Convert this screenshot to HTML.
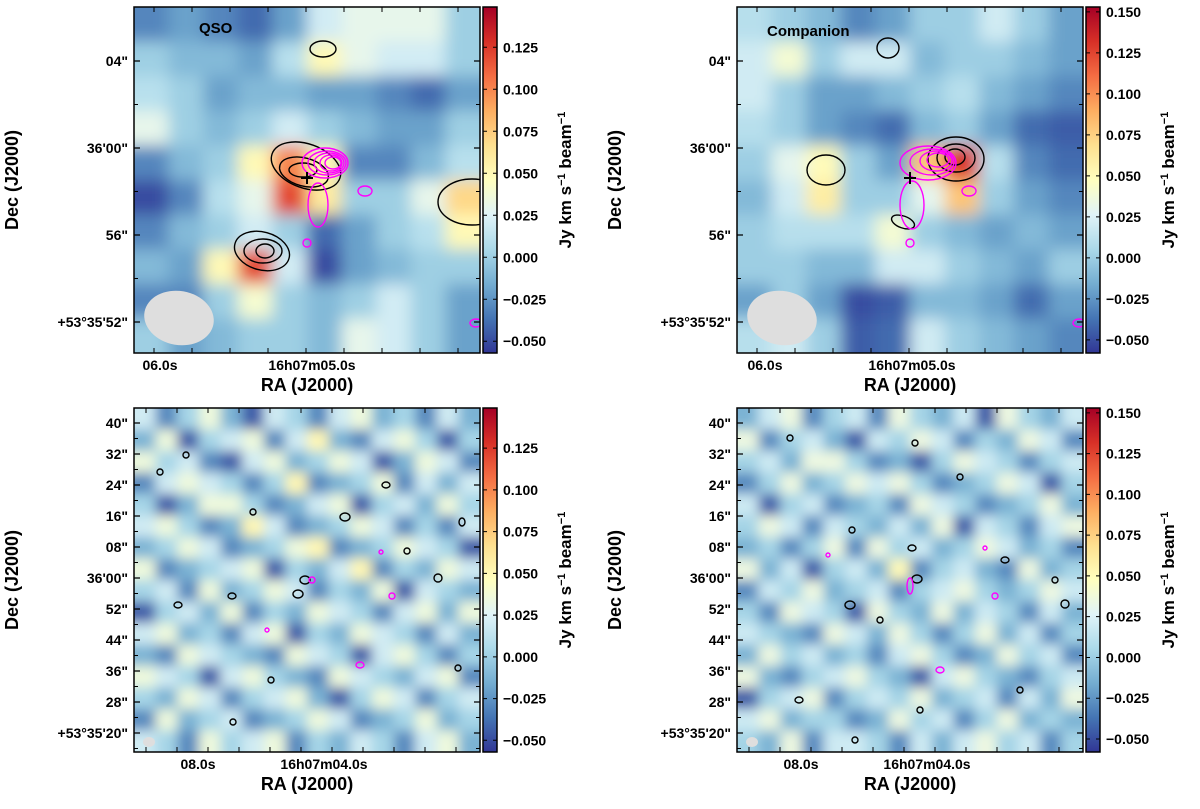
<!DOCTYPE html>
<html><head><meta charset="utf-8"><style>
body{margin:0;background:#fff;width:1200px;height:804px;overflow:hidden}
svg text{font-family:"Liberation Sans",sans-serif;font-weight:bold;fill:#000}
</style></head><body>
<svg id="fig" width="1200" height="804" xmlns="http://www.w3.org/2000/svg">
<defs>
<linearGradient id="cmap" x1="0" y1="1" x2="0" y2="0">
<stop offset="0" stop-color="#313695"/><stop offset="0.1" stop-color="#4575b4"/><stop offset="0.2" stop-color="#74add1"/><stop offset="0.3" stop-color="#abd9e9"/><stop offset="0.4" stop-color="#e0f3f8"/><stop offset="0.5" stop-color="#ffffbf"/><stop offset="0.6" stop-color="#fee090"/><stop offset="0.7" stop-color="#fdae61"/><stop offset="0.8" stop-color="#f46d43"/><stop offset="0.9" stop-color="#d73027"/><stop offset="1" stop-color="#a50026"/>
</linearGradient>
<filter id="blurBig" x="-10%" y="-10%" width="120%" height="120%"><feGaussianBlur stdDeviation="8"/></filter>
<filter id="blurSmall" x="-10%" y="-10%" width="120%" height="120%"><feGaussianBlur stdDeviation="6"/></filter>
</defs>
</svg>
<script>
// ---- data ----
const qsoGrid = [
[-0.03,-0.02,-0.03,-0.04,-0.02,0.02,0.03,0.03,0.03,0.0],
[0.0,-0.01,-0.01,-0.02,0.01,0.05,0.03,0.02,0.02,0.0],
[0.01,0.0,-0.02,-0.01,-0.01,-0.02,-0.02,-0.03,-0.04,-0.02],
[0.03,0.0,-0.01,0.0,0.02,0.0,-0.01,-0.02,-0.02,0.0],
[-0.03,-0.01,0.0,0.05,0.10,0.05,-0.03,-0.03,-0.01,0.01],
[-0.05,-0.03,0.01,0.03,0.12,0.06,0.0,0.0,0.03,0.07],
[-0.03,-0.01,0.0,0.02,0.0,-0.04,-0.02,0.0,0.01,0.05],
[-0.01,-0.02,0.05,0.12,0.02,-0.05,-0.02,-0.01,0.0,0.0],
[-0.03,-0.03,0.0,0.04,0.0,-0.01,0.0,0.02,0.0,-0.02],
[0.0,-0.02,-0.01,0.0,0.0,-0.01,0.03,0.02,0.0,-0.02]];
const compGrid = [
[0.01,0.0,-0.01,-0.03,-0.02,0.0,0.0,0.02,0.0,-0.02],
[0.02,0.04,0.0,0.02,0.02,-0.01,0.0,0.0,-0.01,-0.02],
[0.02,0.0,-0.02,-0.02,-0.01,0.0,0.01,-0.01,-0.02,-0.03],
[0.01,0.0,-0.02,-0.03,-0.04,-0.01,0.0,-0.02,-0.04,-0.045],
[0.0,0.03,0.05,0.0,-0.02,0.08,0.13,0.01,-0.03,-0.04],
[-0.01,0.02,0.06,0.0,0.0,0.03,0.08,0.0,-0.02,-0.03],
[0.0,0.01,0.01,0.01,0.04,0.0,-0.01,-0.02,-0.01,-0.02],
[0.0,0.0,-0.01,-0.01,0.02,0.02,0.0,-0.01,-0.02,0.0],
[-0.02,0.0,-0.02,-0.05,-0.045,-0.01,-0.01,-0.02,-0.04,-0.02],
[0.01,0.02,0.0,-0.045,-0.04,0.02,0.0,-0.01,-0.02,-0.03]];
const wideQsoGrid = [
[1,-2,0,2,-1,-3,1,0,-2,1,2,-1,0,-2,1,-1],
[-1,2,-3,0,1,2,-2,1,3,-1,-2,1,2,0,-3,0],
[2,0,1,-2,-3,1,2,-1,0,2,1,-3,-1,2,1,-2],
[-2,1,2,1,0,-2,0,3,-2,-1,0,2,-2,1,-1,1],
[0,-3,-1,2,2,0,-2,-1,1,2,-3,0,1,-1,2,0],
[1,2,0,-2,-1,3,1,-2,-1,0,2,1,-2,0,-2,1],
[-1,0,2,1,-2,-1,0,2,3,-2,-1,0,2,1,0,-3],
[2,-2,-1,0,1,2,-3,0,-1,1,3,-2,0,-1,2,1],
[0,1,-2,2,-1,0,2,1,-2,0,-1,2,-3,1,0,-1],
[-3,0,1,-1,2,-2,0,-1,2,1,0,-2,1,2,-1,2],
[1,2,-1,0,-2,1,2,-3,0,-1,2,1,0,-2,1,-1],
[-1,-2,2,1,0,-1,-2,2,1,0,-3,1,2,0,-2,0],
[2,1,0,-3,1,2,0,-1,-2,2,1,0,-1,1,2,-2],
[0,-1,2,1,-2,0,1,2,-1,-3,0,2,1,-2,0,1],
[-2,2,-1,0,1,-2,-1,0,2,1,-2,-1,0,2,-1,0],
[1,0,-2,2,0,1,2,-2,0,-1,1,0,-2,1,2,-1]];
const wideCompGrid = [
[-1,1,2,-2,0,1,-2,2,0,-1,1,-3,2,0,-1,1],
[2,-2,0,1,-1,-3,1,0,2,1,-2,0,-1,2,1,-2],
[0,1,-1,2,2,0,-2,-1,-3,0,2,1,0,-2,0,1],
[-2,0,2,-1,0,2,1,2,0,-2,-1,0,2,1,-3,0],
[1,-3,0,1,-2,-1,0,-2,2,1,0,-2,-1,0,2,-1],
[0,2,1,-2,1,0,-1,1,-1,2,-3,1,0,-2,1,2],
[-1,0,-2,0,2,-2,2,0,1,-1,0,2,1,-1,0,-2],
[2,-1,1,-3,0,1,-1,3,-2,0,1,-1,-2,2,-1,0],
[-2,1,0,2,-1,0,1,-2,0,1,2,0,-1,0,2,1],
[0,-2,2,1,0,-3,2,0,-1,2,-1,1,0,-2,1,-1],
[1,0,-1,-2,2,1,-1,2,0,-2,0,2,-1,1,-2,0],
[-1,2,0,1,-1,0,-2,1,2,0,-2,-1,2,0,1,-2],
[2,-1,-2,0,1,2,0,-1,-3,1,2,0,-1,-2,0,1],
[-3,0,1,2,-2,0,1,0,2,-1,0,1,-2,1,-1,2],
[1,2,-1,0,0,-2,-1,2,0,1,-2,0,2,-1,0,-1],
[0,-1,2,-2,1,1,0,-2,1,-1,1,2,0,1,-2,0]];
const cbTicksA = [0.125,0.100,0.075,0.050,0.025,0.000,-0.025,-0.050];
const cbTicksB = [0.150,0.125,0.100,0.075,0.050,0.025,0.000,-0.025,-0.050];
const topDecLabels = ['04"','36\'00"','56"','+53°35\'52"'];
const botDecLabels = ['40"','32"','24"','16"','08"','36\'00"','52"','44"','36"','28"','+53°35\'20"'];

const NS="http://www.w3.org/2000/svg";
const fig=document.getElementById('fig');
function mk(tag,attrs,parent){const e=document.createElementNS(NS,tag);for(const k in attrs)e.setAttribute(k,attrs[k]);(parent||fig).appendChild(e);return e;}
const stops=['#313695','#4575b4','#74add1','#abd9e9','#e0f3f8','#ffffbf','#fee090','#fdae61','#f46d43','#d73027','#a50026'];
function hex(c){return [1,3,5].map(i=>parseInt(c.substr(i,2),16));}
function cmap(t){t=Math.max(0,Math.min(1,t));const f=t*10,i=Math.min(9,Math.floor(f)),r=f-i;const a=hex(stops[i]),b=hex(stops[i+1]);return 'rgb('+a.map((v,k)=>Math.round(v+(b[k]-v)*r)).join(',')+')';}

let pid=0;
function panel(o){
  pid++;
  const g=mk('g',{});
  
  
  const cp=mk('clipPath',{id:'cp'+pid},g);
  mk('rect',{x:o.x,y:o.y,width:o.w,height:o.h},cp);
  const clipG=mk('g',{'clip-path':'url(#cp'+pid+')'},g);
  mk('rect',{x:o.x,y:o.y,width:o.w,height:o.h,fill:cmap((0.0-o.vmin)/(o.vmax-o.vmin))},clipG);
  const hm=mk('g',{filter:o.blur},clipG);
  
  
  const grid=o.grid,R=grid.length,C=grid[0].length,cw=o.w/C,ch=o.h/R;
  for(let r=-1;r<=R;r++)for(let c=-1;c<=C;c++){
    const rr=Math.max(0,Math.min(R-1,r)),cc=Math.max(0,Math.min(C-1,c));
    const v=grid[rr][cc]*o.scale+(o.offset||0);
    const cell=mk('rect',{x:o.x+c*cw,y:o.y+r*ch,width:cw+0.5,height:ch+0.5,fill:cmap((v-o.vmin)/(o.vmax-o.vmin))},hm);
    
    
  }
  (o.contours||[]).forEach(ct=>{
    const e=mk('ellipse',{cx:ct[0],cy:ct[1],rx:ct[2],ry:ct[3],fill:'none',stroke:ct[4],'stroke-width':ct[5]||1.4,transform:'rotate('+(ct[6]||0)+' '+ct[0]+' '+ct[1]+')'},clipG);
    
    
  });
  if(o.beam){const b=mk('ellipse',{cx:o.beam[0],cy:o.beam[1],rx:o.beam[2],ry:o.beam[3],fill:'#dedede',transform:'rotate('+(o.beam[4]||0)+' '+o.beam[0]+' '+o.beam[1]+')'},clipG);
    }
  if(o.cross){const cr=mk('path',{d:`M${o.cross[0]-6} ${o.cross[1]}h12M${o.cross[0]} ${o.cross[1]-6}v12`,stroke:'#000','stroke-width':2},g);
    }
  if(o.title){const t=mk('text',{x:o.title[1],y:o.title[2],'font-size':15},g);t.textContent=o.title[0];
    }
  mk('rect',{x:o.x,y:o.y,width:o.w,height:o.h,fill:'none',stroke:'#000','stroke-width':1.5},g);
  o.yLabels.forEach((lab,i)=>{
    const y=o.yPos[0]+i*o.yPos[1];
    mk('path',{d:`M${o.x} ${y}h6M${o.x+o.w} ${y}h-6`,stroke:'#000','stroke-width':1.2},g);
    const t=mk('text',{x:o.x-6,y:y+5,'text-anchor':'end','font-size':14},g);t.textContent=lab;
    
    const hy=y+o.yPos[1]/2;
    if(hy<o.y+o.h) mk('path',{d:`M${o.x} ${hy}h4M${o.x+o.w} ${hy}h-4`,stroke:'#000','stroke-width':1},g);
  });
  for(let xx=o.x+o.xMinor[0];xx<o.x+o.w;xx+=o.xMinor[1]) mk('path',{d:`M${xx} ${o.y+o.h}v-5M${xx} ${o.y}v5`,stroke:'#000','stroke-width':1},g);
  o.xLabels.forEach(l=>{const t=mk('text',{x:l[1],y:o.y+o.h+17,'text-anchor':'middle','font-size':14},g);t.textContent=l[0];
    });
  let t=mk('text',{x:o.x+o.w/2,y:o.y+o.h+38,'text-anchor':'middle','font-size':18},g);t.textContent='RA (J2000)';
  
  t=mk('text',{x:0,y:0,'text-anchor':'middle','font-size':18,transform:`translate(${o.x-116},${o.y+o.h/2}) rotate(-90)`},g);t.textContent='Dec (J2000)';
  
  const cb=mk('g',{},g);
  const cx=o.x+o.w+3;
  mk('rect',{x:cx,y:o.y,width:14,height:o.h,fill:'url(#cmap)',stroke:'#000','stroke-width':1.5},cb);
  const vy=v=>o.y+o.h-(v-o.vmin)/(o.vmax-o.vmin)*o.h;
  o.cbTicks.forEach(v=>{const y=vy(v);
    mk('path',{d:`M${cx} ${y}h4M${cx+14} ${y}h-4`,stroke:'#000','stroke-width':1},cb);
    const tt=mk('text',{x:cx+20,y:y+5,'font-size':14},cb);tt.textContent=v.toFixed(3).replace('-','\u2212');
    });
  t=mk('text',{x:0,y:0,'text-anchor':'middle','font-size':17,transform:`translate(${cx+88},${o.y+o.h/2}) rotate(-90)`},cb);
  mk('tspan',{},t).textContent='Jy km s';
  mk('tspan',{dy:-6,'font-size':11},t).textContent='\u22121';
  mk('tspan',{dy:6},t).textContent=' beam';
  mk('tspan',{dy:-6,'font-size':11},t).textContent='\u22121';
  
}
const K='#000',M='#ff00ff';
panel({name:'qso-zoom-panel',x:134,y:7,w:346,h:346,grid:qsoGrid,scale:1,vmin:-0.057,vmax:0.149,blur:'url(#blurBig)',cbTicks:cbTicksA,
 title:['QSO',199,33],cross:[307,178],beam:[179,318,35,27,10],
 contours:[[323,49,13,8,K],[306,166,36,22,K,1.4,20],[304,172,25,14,K,1.4,15],[303,170,14,7,K],[262,251,28,19,K,1.4,15],[263,251,19,12,K],[265,251,9,7,K],[472,202,34,23,K],
   [325,163,23,15,M],[327,163,19,12,M],[329,163,15,10,M],[331,163,11,8,M],[333,163,8,6,M],[318,205,10,22,M],[365,191,7,5,M],[307,243,4,4,M],[476,323,6,4,M]],
 yLabels:topDecLabels,yPos:[61,87],xLabels:[['06.0s',160],['16h07m05.0s',312]],xMinor:[20,38]});
panel({name:'companion-zoom-panel',x:737,y:7,w:346,h:346,grid:compGrid,scale:1,vmin:-0.058,vmax:0.153,blur:'url(#blurBig)',cbTicks:cbTicksB,
 title:['Companion',767,36],cross:[910,178],beam:[782,318,35,27,10],
 contours:[[888,48,11,10,K],[826,170,19,15,K],[956,159,28,22,K],[956,158,19,14,K],[955,157,10,8,K],[903,222,12,6,K,1.4,20],
   [928,163,28,17,M],[932,162,22,13,M],[936,161,16,10,M],[938,160,11,7,M],[912,205,12,24,M],[969,191,7,5,M],[910,243,4,4,M],[1079,323,6,4,M]],
 yLabels:topDecLabels,yPos:[61,87],xLabels:[['06.0s',765],['16h07m05.0s',912]],xMinor:[20,38]});
panel({name:'qso-wide-panel',x:134,y:408,w:346,h:344,grid:wideQsoGrid,scale:0.016,offset:0.003,vmin:-0.057,vmax:0.149,blur:'url(#blurSmall)',cbTicks:cbTicksA,
 beam:[149,742,6,5,0],
 contours:[[305,580,5,4,K],[298,594,5,4,K],[438,578,4,4,K],[345,517,5,4,K],[386,485,4,3,K],[232,596,4,3,K],[160,472,3,3,K],[186,455,3,3,K],[462,522,3,4,K],[253,512,3,3,K],[407,551,3,3,K],[178,605,4,3,K],[271,680,3,3,K],[458,668,3,3,K],[233,722,3,3,K],
   [312,580,3,3,M],[392,596,3,3,M],[360,665,4,3,M],[267,630,2,2,M],[381,552,2,2,M]],
 yLabels:botDecLabels,yPos:[423,31],xLabels:[['08.0s',198],['16h07m04.0s',324]],xMinor:[12,31]});
panel({name:'companion-wide-panel',x:737,y:408,w:346,h:344,grid:wideCompGrid,scale:0.016,offset:0.003,vmin:-0.058,vmax:0.153,blur:'url(#blurSmall)',cbTicks:cbTicksB,
 beam:[752,742,6,5,0],
 contours:[[917,579,5,4,K],[850,605,5,4,K],[1065,604,4,4,K],[912,548,4,3,K],[1005,560,4,3,K],[790,438,3,3,K],[915,443,3,3,K],[960,477,3,3,K],[852,530,3,3,K],[880,620,3,3,K],[1055,580,3,3,K],[799,700,4,3,K],[920,710,3,3,K],[855,740,3,3,K],[1020,690,3,3,K],
   [910,586,3,8,M],[995,596,3,3,M],[940,670,4,3,M],[828,555,2,2,M],[985,548,2,2,M]],
 yLabels:botDecLabels,yPos:[423,31],xLabels:[['08.0s',801],['16h07m04.0s',927]],xMinor:[12,31]});
</script>
</body></html>
